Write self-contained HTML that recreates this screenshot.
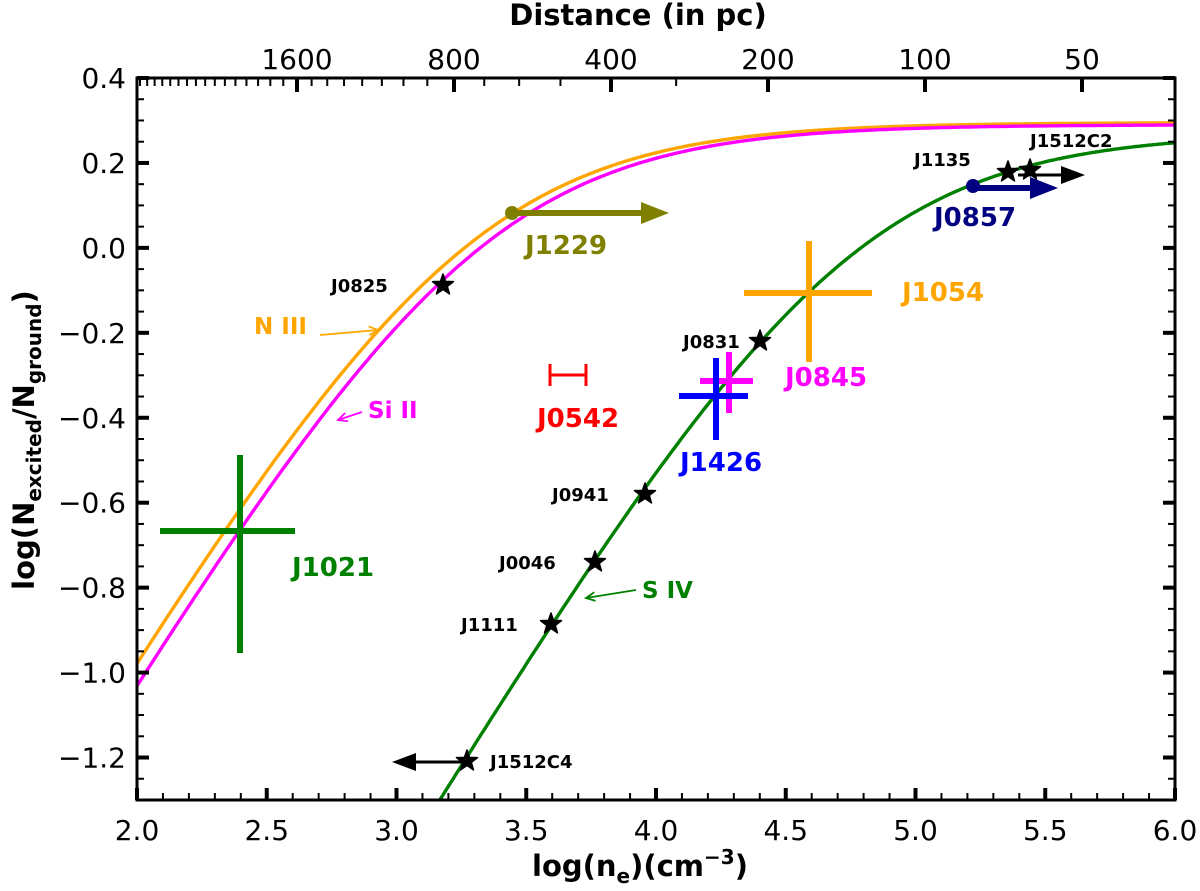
<!DOCTYPE html>
<html><head><meta charset="utf-8"><style>
html,body{margin:0;padding:0;background:#fff;overflow:hidden;width:1200px;height:891px;}
svg{display:block;font-family:"DejaVu Sans","Liberation Sans",sans-serif;}
</style></head><body>
<svg id="s" width="1200" height="891" viewBox="0 0 1200 891" xmlns="http://www.w3.org/2000/svg">
<defs><clipPath id="c"><rect x="137" y="78" width="1038" height="722"/></clipPath></defs>
<g id="curves" clip-path="url(#c)"></g>
<g id="ticks" stroke="#000"></g>
<rect x="137" y="78" width="1038" height="722" fill="none" stroke="#000" stroke-width="3"/>
<g id="data"></g>
<g font-size="28" text-anchor="middle" id="labs"></g>
<text x="638" y="25" font-size="29" font-weight="bold" text-anchor="middle">Distance (in pc)</text>
<text x="640" y="876" font-size="29" font-weight="bold" text-anchor="middle">log(n<tspan font-size="20" dy="7">e</tspan><tspan dy="-7">)(cm</tspan><tspan font-size="20" dy="-12">−3</tspan><tspan dy="12">)</tspan></text>
<text transform="translate(34,440) rotate(-90)" font-size="29" font-weight="bold" text-anchor="middle">log(N<tspan font-size="20" dy="7">excited</tspan><tspan dy="-7">/N</tspan><tspan font-size="20" dy="7">ground</tspan><tspan dy="-7">)</tspan></text>
</svg>
<script>
const NS="http://www.w3.org/2000/svg";
const X=x=>137+(x-2)*259.5, Y=y=>78+(0.4-y)*424.7;
function el(p,t,a,txt){const e=document.createElementNS(NS,t);for(const k in a)e.setAttribute(k,a[k]);if(txt!=null)e.textContent=txt;document.getElementById(p).appendChild(e);return e;}
function curve(A,lnc,col){let d="";for(let x=2;x<=6.001;x+=0.01){const y=A-Math.log10(1+Math.pow(10,lnc-x));d+=(d?"L":"M")+X(x).toFixed(1)+","+Y(y).toFixed(1);}el("curves","path",{d:d,fill:"none",stroke:col,"stroke-width":3.4});}
curve(0.295,3.25,"#ffa500");curve(0.29,3.30,"#ff00ff");curve(0.27,4.725,"#008000");
for(let i=0;i<=40;i++){const x=137+i*25.95;const maj=i%5==0;el("ticks","line",{x1:x,x2:x,y1:800,y2:maj?788:793,"stroke-width":maj?4:2});}
const yl=["0.4","0.2","0.0","−0.2","−0.4","−0.6","−0.8","−1.0","−1.2"];
for(let i=0;i<=34;i++){const v=0.4-i*0.05;const y=Y(v);const maj=i%4==0;el("ticks","line",{x1:137,x2:maj?149:144,y1:y,y2:y,"stroke-width":maj?4:2});el("ticks","line",{x1:1175,x2:maj?1163:1168,y1:y,y2:y,"stroke-width":maj?4:2});if(maj)el("labs","text",{x:126,y:y+10,stroke:"none","text-anchor":"end"},yl[i/4]);}
["2.0","2.5","3.0","3.5","4.0","4.5","5.0","5.5","6.0"].forEach((t,i)=>el("labs","text",{x:137+i*129.75,y:840},t));
const DX=d=>925-157*Math.log2(d/100);
[1600,800,400,200,100,50].forEach(d=>{const x=DX(d);el("ticks","line",{x1:x,x2:x,y1:78,y2:92,"stroke-width":4});el("labs","text",{x:x,y:69},d);});
[3,5,6,7,9,10,11,12,13,14,15,17,18,19,20,21,22,23,24,25,26,27,28,29,30,31,32].forEach(k=>{const x=DX(k*100);if(x>139)el("ticks","line",{x1:x,x2:x,y1:78,y2:86,"stroke-width":2});});
function cross(cx,cy,x1,x2,y1,y2,col){el("data","line",{x1:x1,x2:x2,y1:cy,y2:cy,stroke:col,"stroke-width":6});el("data","line",{x1:cx,x2:cx,y1:y1,y2:y2,stroke:col,"stroke-width":6});}
function lab(x,y,t,col,fs){el("data","text",{x:x,y:y,fill:col,"font-size":fs,"font-weight":"bold"},t);}
function star(x,y){let p="";for(let i=0;i<10;i++){const r=i%2?4.5:11,a=-Math.PI/2+i*Math.PI/5;p+=(x+r*Math.cos(a)).toFixed(1)+","+(y+r*Math.sin(a)).toFixed(1)+" ";}el("data","polygon",{points:p,fill:"#000",stroke:"#000","stroke-width":1.5,"stroke-linejoin":"round"});}
function arrow(x1,x2,y,col,w,hw,hl){const dir=Math.sign(x2-x1);el("data","line",{x1:x1,x2:x2-dir*hl,y1:y,y2:y,stroke:col,"stroke-width":w});el("data","polygon",{points:`${x2},${y} ${x2-dir*hl},${y-hw} ${x2-dir*hl},${y+hw}`,fill:col});}
function ann(x1,y1,x2,y2,col){el("data","line",{x1:x1,y1:y1,x2:x2,y2:y2,stroke:col,"stroke-width":1.8});const a=Math.atan2(y2-y1,x2-x1),L=10;el("data","polyline",{points:`${x2-L*Math.cos(a-0.45)},${y2-L*Math.sin(a-0.45)} ${x2},${y2} ${x2-L*Math.cos(a+0.45)},${y2-L*Math.sin(a+0.45)}`,fill:"none",stroke:col,"stroke-width":1.8});}
cross(240,531,160,295,455,653,"#008000");lab(292,576,"J1021","#008000",26);
el("data","circle",{cx:512,cy:213,r:7,fill:"#808000"});arrow(512,669,213,"#808000",6,11,28);lab(525,254,"J1229","#808000",26);
cross(809,293,744,872,241,362,"#ffa500");lab(902,301,"J1054","#ffa500",26);
cross(729,381,700,753,352,413,"#ff00ff");lab(785,386,"J0845","#ff00ff",26);
cross(716,396,679,748,358,440,"#0000ff");lab(680,471,"J1426","#0000ff",26);
el("data","line",{x1:550,x2:586,y1:375,y2:375,stroke:"#ff0000","stroke-width":3});
el("data","line",{x1:550,x2:550,y1:364,y2:386,stroke:"#ff0000","stroke-width":3});
el("data","line",{x1:586,x2:586,y1:364,y2:386,stroke:"#ff0000","stroke-width":3});
lab(537,427,"J0542","#ff0000",26);
lab(254,334,"N III","#ffa500",23);ann(320,335,378,330,"#ffa500");
lab(368,418,"Si II","#ff00ff",23);ann(362,412,338,420,"#ff00ff");
lab(642,598,"S IV","#008000",23);ann(636,590,586,598,"#008000");
arrow(467,392,762,"#000",3,9,24);
arrow(1018,1085,175,"#000",3,9,24);
el("data","circle",{cx:973,cy:186,r:7,fill:"#000080"});arrow(973,1058,188,"#000080",6,11,28);lab(934,226,"J0857","#000080",26);
[[443,285,"J0825",331],[760,341,"J0831",683],[645,494,"J0941",552],[595,562,"J0046",499],[551,624,"J1111",461],[467,761,"J1512C4",490]].forEach(s=>{star(s[0],s[1]);lab(s[3],s[1]+7,s[2],"#000",18);});
star(1008,172);star(1030,170);lab(914,166,"J1135","#000",18);lab(1030,147,"J1512C2","#000",18);
</script>
</body></html>
